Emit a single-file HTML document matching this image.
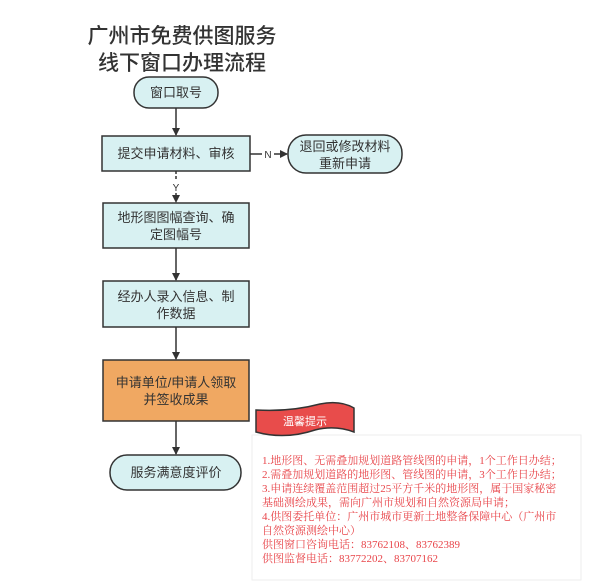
<!DOCTYPE html>
<html><head><meta charset="utf-8"><style>
body{margin:0;background:#fff;width:600px;height:582px;overflow:hidden;font-family:"Liberation Sans","Noto Sans CJK SC",sans-serif}
</style></head><body>
<svg width="600" height="582" viewBox="0 0 600 582" xmlns="http://www.w3.org/2000/svg" style="position:absolute;left:0;top:0">
<defs><marker id="a" markerWidth="8" markerHeight="8" refX="7" refY="4" orient="auto" markerUnits="userSpaceOnUse"><path d="M0,0 L8,4 L0,8 Z" fill="#333"/></marker></defs>
<g font-family="Liberation Sans, Noto Sans CJK SC, sans-serif">
<text x="182" y="43" font-size="21" text-anchor="middle" fill="#333" font-weight="500">广州市免费供图服务</text>
<text x="182" y="70" font-size="21" text-anchor="middle" fill="#333" font-weight="500">线下窗口办理流程</text>
<g stroke="#333" stroke-width="1.5" fill="#d8f1f2">
<rect x="134" y="77" width="84" height="31" rx="15"/>
<rect x="102" y="136" width="148" height="35"/>
<rect x="288" y="135" width="114" height="38" rx="18"/>
<rect x="103" y="203" width="146" height="45"/>
<rect x="103" y="281" width="146" height="46"/>
<rect x="103" y="360" width="146" height="61" fill="#f0a862"/>
<rect x="110" y="455" width="131" height="35" rx="17"/>
</g>
<g stroke="#333" stroke-width="1.5" fill="none">
<line x1="176" y1="108" x2="176" y2="135" marker-end="url(#a)"/>
<line x1="176" y1="248" x2="176" y2="280" marker-end="url(#a)"/>
<line x1="176" y1="327" x2="176" y2="359" marker-end="url(#a)"/>
<line x1="176" y1="421" x2="176" y2="454" marker-end="url(#a)"/>
<line x1="250" y1="154" x2="262" y2="154"/>
<line x1="274" y1="154" x2="287" y2="154" marker-end="url(#a)"/>
<line x1="176" y1="171" x2="176" y2="180" stroke-dasharray="3,2"/>
<line x1="176" y1="193" x2="176" y2="202" stroke-dasharray="3,2" marker-end="url(#a)"/>
</g>
<text x="268" y="158" font-size="10" text-anchor="middle" fill="#333">N</text>
<text x="176" y="191" font-size="10" text-anchor="middle" fill="#333">Y</text>
<g font-size="13" fill="#333" text-anchor="middle">
<text x="176" y="97">窗口取号</text>
<text x="176" y="158">提交申请材料、审核</text>
<text x="345" y="151">退回或修改材料</text>
<text x="345" y="168">重新申请</text>
<text x="176" y="222">地形图图幅查询、确</text>
<text x="176" y="239">定图幅号</text>
<text x="176" y="301">经办人录入信息、制</text>
<text x="176" y="318">作数据</text>
<text x="176" y="387">申请单位/申请人领取</text>
<text x="176" y="404">并签收成果</text>
<text x="176" y="477">服务满意度评价</text>
</g>
<rect x="252" y="435" width="329" height="145" fill="#fff" stroke="#eee"/>
<path d="M256,410 Q290,412 320,404 Q340,400 354,408 L354,432 Q335,425 315,430 Q285,440 256,432 Z" fill="#e84c4b" stroke="#333" stroke-width="1.5"/>
<text x="305" y="425" font-size="11" fill="#fff" text-anchor="middle">温馨提示</text>
<g font-size="11" fill="#e8454a" font-family="Liberation Serif, Noto Serif CJK SC, serif">
<text x="262" y="464">1.地形图、无需叠加规划道路管线图的申请，1个工作日办结；</text>
<text x="262" y="478">2.需叠加规划道路的地形图、管线图的申请，3个工作日办结；</text>
<text x="262" y="492">3.申请连续覆盖范围超过25平方千米的地形图，属于国家秘密</text>
<text x="262" y="506">基础测绘成果，需向广州市规划和自然资源局申请；</text>
<text x="262" y="520">4.供图委托单位：广州市城市更新土地整备保障中心（广州市</text>
<text x="262" y="534">自然资源测绘中心）</text>
<text x="262" y="548">供图窗口咨询电话：83762108、83762389</text>
<text x="262" y="562">供图监督电话：83772202、83707162</text>
</g>
</g>
</svg>
</body></html>
